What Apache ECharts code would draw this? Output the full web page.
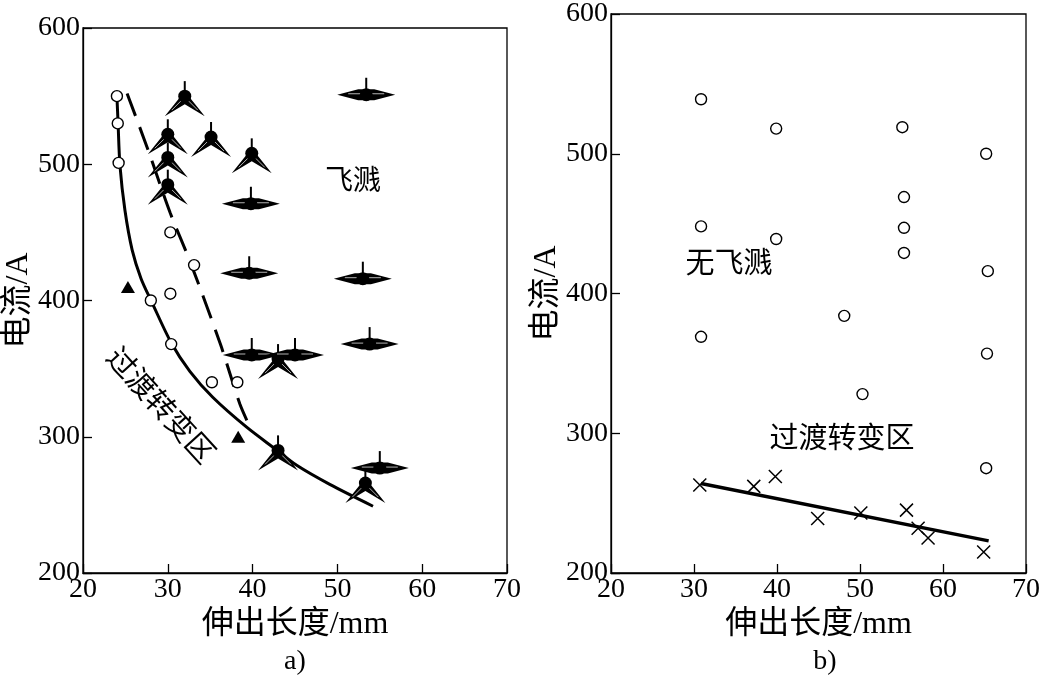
<!DOCTYPE html>
<html>
<head>
<meta charset="utf-8">
<script src="https://cdn.jsdelivr.net/npm/echarts@6/dist/echarts.min.js"></script>
<style>
html, body { margin: 0; padding: 0; background: #fff; }
#chart { width: 1043px; height: 678px; }
</style>
</head>
<body>
<div id="chart"></div>
<script>
const FONT = "'Liberation Serif', 'Noto Sans CJK SC', serif"

// 坐标轴范围
const xRange = [20, 70, 10]
const yRange = [200, 600, 100]

// a) 左图
const aOpen = [[24, 550], [24.1, 530], [24.2, 501], [30.3, 450], [33.1, 426], [30.3, 405], [28, 400], [30.4, 368], [35.2, 340], [38.2, 340]]
const aTriangle = [[25.3, 410], [38.3, 300]]
const aSpatterUp = [[32, 550], [30, 522], [35.1, 520], [39.9, 508], [30, 505], [30, 485], [43, 357], [43, 290], [53.3, 266]]
const aSpatterFlat = [[53.4, 551], [39.8, 471], [39.6, 420], [53, 416], [53.8, 368], [39.9, 360], [45, 360], [55, 277]]
const aSolidCurve = [[24.0, 550], [24.13, 531], [24.36, 499], [24.95, 466], [25.8, 437], [26.85, 416], [28.1, 399], [30.4, 369], [32.6, 348], [35.3, 329], [39.3, 307], [42.9, 290], [45.2, 279], [49.1, 265], [54.2, 249]]
const aDashCurve = [[25.2, 552], [27.7, 510], [30.3, 464], [32.6, 429], [36.2, 368], [38.5, 324], [39.7, 307]]

// b) 右图
const bOpen = [[30.85, 539], [39.9, 518], [30.85, 448], [39.9, 439], [55.1, 519], [65.2, 500], [55.3, 469], [55.3, 447], [55.3, 429], [65.4, 416], [30.85, 369], [48.1, 384], [65.3, 357], [50.3, 328], [65.2, 275]]
const bCross = [[30.7, 263], [37.2, 262], [39.8, 269], [44.9, 239], [50.1, 243], [55.6, 245], [57.0, 232], [58.2, 225], [64.9, 215]]
const bFit = [[30.85, 264], [65.5, 223]]

const xAxisOf = (gridIndex) => ({
  gridIndex,
  type: 'value',
  min: xRange[0],
  max: xRange[1],
  interval: xRange[2],
  name: '伸出长度/mm',
  nameLocation: 'middle',
  nameGap: 30,
  nameTextStyle: { color: '#000', fontSize: 32, fontFamily: FONT },
  axisLine: { show: true, onZero: false, lineStyle: { color: '#000', width: 1.3 } },
  axisTick: { show: true, inside: true, length: 9, lineStyle: { color: '#000', width: 1.3 } },
  axisLabel: { color: '#000', fontSize: 28, fontFamily: FONT, margin: 3 },
  splitLine: { show: false }
})

const yAxisOf = (gridIndex) => ({
  gridIndex,
  type: 'value',
  min: yRange[0],
  max: yRange[1],
  interval: yRange[2],
  name: '电流/A',
  nameLocation: 'middle',
  nameGap: 46,
  nameTextStyle: { color: '#000', fontSize: 32, fontFamily: FONT },
  axisLine: { show: true, onZero: false, lineStyle: { color: '#000', width: 1.3 } },
  axisTick: { show: true, inside: true, length: 9, lineStyle: { color: '#000', width: 1.3 } },
  axisLabel: { color: '#000', fontSize: 28, fontFamily: FONT, margin: 3 },
  splitLine: { show: false }
})

// 飞溅标记: 实心圆 + 竖线 + 翼
const renderSpatter = (flat) => (params, api) => {
  const [cx, cy] = api.coord([api.value(0), api.value(1)])
  const children = []
  if (flat) {
    children.push({ type: 'polygon', shape: { points: [[cx - 29, cy], [cx - 8, cy - 5.5], [cx + 8, cy - 5.5], [cx + 29, cy], [cx + 8, cy + 5.5], [cx - 8, cy + 5.5]] }, style: { fill: '#000' } })
    children.push({ type: 'line', shape: { x1: cx - 18, y1: cy - 1, x2: cx + 18, y2: cy - 1 }, style: { stroke: '#fff', lineWidth: 0.7 } })
    children.push({ type: 'line', shape: { x1: cx, y1: cy, x2: cx, y2: cy - 17 }, style: { stroke: '#000', lineWidth: 2 } })
  } else {
    children.push({ type: 'polygon', shape: { points: [[cx, cy - 5], [cx + 20, cy + 20], [cx, cy + 8], [cx - 20, cy + 20]] }, style: { fill: '#000' } })
    children.push({ type: 'line', shape: { x1: cx + 4, y1: cy + 5, x2: cx + 13, y2: cy + 14 }, style: { stroke: '#fff', lineWidth: 0.7 } })
    children.push({ type: 'line', shape: { x1: cx - 4, y1: cy + 5, x2: cx - 13, y2: cy + 14 }, style: { stroke: '#fff', lineWidth: 0.7 } })
    children.push({ type: 'line', shape: { x1: cx, y1: cy, x2: cx, y2: cy - 15 }, style: { stroke: '#000', lineWidth: 2 } })
  }
  children.push({ type: 'circle', shape: { cx, cy, r: 6.5 }, style: { fill: '#000' } })
  return { type: 'group', children }
}

const openCircle = {
  symbol: 'circle',
  symbolSize: 11,
  itemStyle: { color: '#fff', borderColor: '#000', borderWidth: 1.4, opacity: 1 }
}

const option = {
  animation: false,
  backgroundColor: '#fff',
  grid: [
    { left: 83, top: 28, width: 424, height: 545, show: true, borderColor: '#000', borderWidth: 1.3, backgroundColor: 'transparent' },
    { left: 611, top: 8, width: 424, height: 565, show: true, borderColor: '#000', borderWidth: 1.3, backgroundColor: 'transparent' }
  ],
  xAxis: [xAxisOf(0), xAxisOf(1)],
  yAxis: [yAxisOf(0), yAxisOf(1)],
  series: [
    {
      type: 'line', xAxisIndex: 0, yAxisIndex: 0, data: aSolidCurve, smooth: 0.3,
      symbol: 'none', silent: true, lineStyle: { color: '#000', width: 3 }, z: 2
    },
    {
      type: 'line', xAxisIndex: 0, yAxisIndex: 0, data: aDashCurve, smooth: 0.3,
      symbol: 'none', silent: true, lineStyle: { color: '#000', width: 3, type: [24, 12] }, z: 2
    },
    { type: 'custom', xAxisIndex: 0, yAxisIndex: 0, data: aSpatterUp, renderItem: renderSpatter(false), silent: true, z: 3 },
    { type: 'custom', xAxisIndex: 0, yAxisIndex: 0, data: aSpatterFlat, renderItem: renderSpatter(true), silent: true, z: 3 },
    { type: 'scatter', xAxisIndex: 0, yAxisIndex: 0, data: aOpen, silent: true, z: 4, ...openCircle },
    {
      type: 'scatter', xAxisIndex: 0, yAxisIndex: 0, data: aTriangle, silent: true, z: 4,
      symbol: 'triangle', symbolSize: [14, 12], itemStyle: { color: '#000', opacity: 1 }
    },
    {
      type: 'line', xAxisIndex: 1, yAxisIndex: 1, data: bFit, symbol: 'none', silent: true,
      lineStyle: { color: '#000', width: 3.5 }, z: 2
    },
    { type: 'scatter', xAxisIndex: 1, yAxisIndex: 1, data: bOpen, silent: true, z: 4, ...openCircle },
    {
      type: 'scatter', xAxisIndex: 1, yAxisIndex: 1, data: bCross, silent: true, z: 4,
      symbol: 'path://M0,0L10,10M10,0L0,10', symbolSize: 13,
      itemStyle: { color: 'transparent', borderColor: '#000', borderWidth: 1.5, opacity: 1 }
    }
  ],
  graphic: [
    { type: 'text', x: 353, y: 183, style: { text: '飞溅', font: `28px ${FONT}`, fill: '#000', align: 'center', verticalAlign: 'middle' } },
    { type: 'text', x: 159, y: 407, rotation: -0.83, style: { text: '过渡转变区', font: `29px ${FONT}`, fill: '#000', align: 'center', verticalAlign: 'middle' } },
    { type: 'text', x: 729, y: 265, style: { text: '无飞溅', font: `29px ${FONT}`, fill: '#000', align: 'center', verticalAlign: 'middle' } },
    { type: 'text', x: 842, y: 440, style: { text: '过渡转变区', font: `29px ${FONT}`, fill: '#000', align: 'center', verticalAlign: 'middle' } },
    { type: 'text', x: 295, y: 662, style: { text: 'a)', font: `28px ${FONT}`, fill: '#000', align: 'center', verticalAlign: 'middle' } },
    { type: 'text', x: 825, y: 662, style: { text: 'b)', font: `28px ${FONT}`, fill: '#000', align: 'center', verticalAlign: 'middle' } }
  ]
}

const chart = echarts.init(document.getElementById('chart'))
chart.setOption(option)
window.addEventListener('resize', () => chart.resize())
</script>
</body>
</html>
